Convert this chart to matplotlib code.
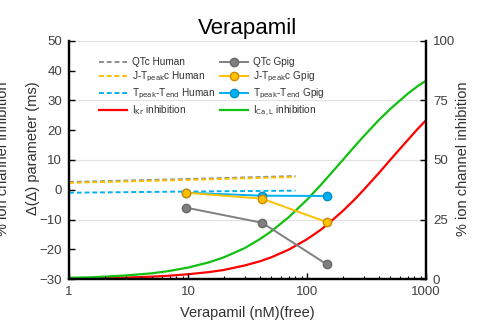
import matplotlib
matplotlib.use("Agg")
import matplotlib.pyplot as plt
from matplotlib.ticker import NullFormatter

plt.rcParams['font.family'] = ['Liberation Sans', 'DejaVu Sans']

# human model (dashed), concentration in nM
human_conc = [1, 10, 80]
qtc_human = [2.6, 3.6, 4.6]
jtpc_human = [2.3, 3.3, 4.3]
tpte_human = [-1.0, -0.6, -0.3]

# guinea pig measurements
gpig_conc = [9.6, 42, 147]
qtc_gpig = [-6.0, -11.1, -25.1]
jtpc_gpig = [-1.0, -3.0, -10.9]
tpte_gpig = [-1.0, -2.0, -2.1]

# channel block (% inhibition)
block_conc = [1, 1.5, 2, 3, 5, 7, 10, 15, 20, 30, 40, 50, 70, 100, 130, 150,
              200, 250, 300, 400, 500, 700, 850, 1000]
ikr_block = [0.2, 0.3, 0.4, 0.6, 1.0, 1.4, 2.0, 2.9, 3.8, 5.7, 7.4, 9.1, 12.3,
             16.7, 20.6, 23.1, 28.6, 33.3, 37.5, 44.4, 50.0, 58.3, 63.0, 66.7]
ical_block = [0.5, 0.7, 1.0, 1.5, 2.4, 3.4, 4.8, 7.0, 9.1, 13.0, 16.7, 20.0,
              25.9, 33.3, 39.4, 42.9, 50.0, 55.6, 60.0, 66.7, 71.4, 77.8,
              81.0, 83.3]

grey = '#7f7f7f'
yellow = '#ffc000'
blue = '#00b0f0'
red = '#ff0000'
green = '#11c011'
tick_col = '#404040'

fig = plt.figure(figsize=(4.87, 3.23), dpi=100)
ax = fig.add_axes([0.1417, 0.1362, 0.733, 0.7369])
ax2 = ax.twinx()
ax2.set_zorder(0)
ax.set_zorder(1)
ax.patch.set_visible(False)

# inhibition curves on right axis
l_ikr, = ax2.plot(block_conc, ikr_block, color=red, lw=1.6)
l_ical, = ax2.plot(block_conc, ical_block, color=green, lw=1.6)

dash = (0, (2.5, 1.5))
l1, = ax.plot(human_conc, qtc_human, color='#8c8c8c', lw=1.4, ls=dash)
l2, = ax.plot(human_conc, jtpc_human, color=yellow, lw=1.4, ls=dash)
l3, = ax.plot(human_conc, tpte_human, color=blue, lw=1.4, ls=dash)
l4, = ax.plot(gpig_conc, qtc_gpig, color=grey, lw=1.4, marker='o', ms=6,
              mec='#6a6a6a')
l6, = ax.plot(gpig_conc, tpte_gpig, color=blue, lw=1.4, marker='o', ms=6,
              mec='#0090c8')
l5, = ax.plot(gpig_conc, jtpc_gpig, color=yellow, lw=1.4, marker='o', ms=6,
              mec='#d08a00')

ax.set_xscale('log')
ax.set_xlim(1, 1000)
ax.set_ylim(-30, 50)
ax2.set_ylim(0, 100)
ax.set_yticks(range(-30, 51, 10))
ax2.set_yticks([0, 25, 50, 75, 100])
ax.set_xticks([1, 10, 100, 1000])
ax.set_xticklabels(['1', '10', '100', '1000'])
ax.xaxis.set_minor_formatter(NullFormatter())

ax2.grid(True, axis='y', color='#e2e2e2', lw=0.9)
ax2.grid(True, axis='x', which='both', color='#ececec', lw=0.8)

for a in (ax, ax2):
    a.spines['top'].set_visible(False)
    for s in ('left', 'right', 'bottom'):
        a.spines[s].set_linewidth(1.6)
        a.spines[s].set_color('black')
    a.tick_params(direction='in', labelsize=9.5, labelcolor=tick_col,
                  length=4, width=1.0, pad=5)
    a.tick_params(which='minor', direction='in', length=2.5, width=0.8)

ax.set_xlabel('Verapamil (nM)(free)', fontsize=10.5, color='#303030', labelpad=6)
ax.set_title('Verapamil', fontsize=16, pad=5)
fig.text(0.068, 0.54, 'Δ(Δ) parameter (ms)', rotation=90, fontsize=10.5,
         color='#303030', ha='center', va='center')
fig.text(0.006, 0.51, '% ion channel inhibition', rotation=90, fontsize=10.5,
         color='#303030', ha='center', va='center')
fig.text(0.951, 0.51, '% ion channel inhibition', rotation=90, fontsize=10.5,
         color='#303030', ha='center', va='center')

handles = [l1, l2, l3, l_ikr, l4, l5, l6, l_ical]
labels = ['QTc Human', r'J-T$_{\mathrm{peak}}$c Human',
          r'T$_{\mathrm{peak}}$-T$_{\mathrm{end}}$ Human',
          r'I$_{\mathrm{Kr}}$ inhibition',
          'QTc Gpig', r'J-T$_{\mathrm{peak}}$c Gpig',
          r'T$_{\mathrm{peak}}$-T$_{\mathrm{end}}$ Gpig',
          r'I$_{\mathrm{Ca,L}}$ inhibition']
leg = ax.legend(handles, labels, ncol=2, loc='upper left',
                bbox_to_anchor=(0.06, 0.97), frameon=False, fontsize=7.2,
                handlelength=2.8, handletextpad=0.45, columnspacing=0.5,
                labelspacing=0.25)
for t in leg.get_texts():
    t.set_color('#303030')

fig.savefig('out.png', dpi=100)
